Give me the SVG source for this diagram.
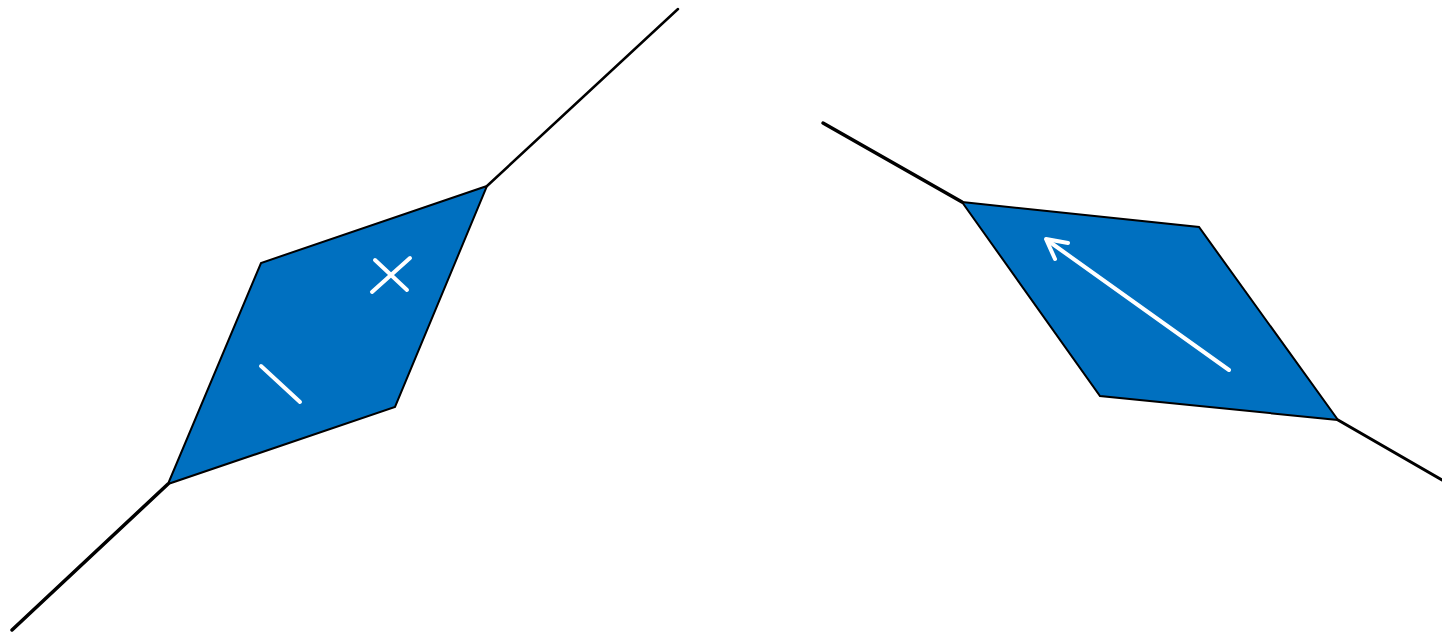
<svg xmlns="http://www.w3.org/2000/svg" width="1442" height="635" viewBox="0 0 1442 635">
<style>
.wire{stroke:#000;fill:none;stroke-linecap:round}
.shape{fill:#0070c0;stroke:#000;stroke-width:2;stroke-linejoin:miter}
.mark{stroke:#fff;stroke-width:4;fill:none;stroke-linecap:round;stroke-linejoin:round}
</style>
<rect width="1442" height="635" fill="#fff"/>
<g id="connectors">
<line class="wire" x1="12" y1="630" x2="168" y2="484" stroke-width="3.5"/>
<line class="wire" x1="487" y1="186" x2="678" y2="9" stroke-width="2.5"/>
<line class="wire" x1="823" y1="123" x2="962" y2="202" stroke-width="3.5"/>
<line class="wire" x1="1338" y1="420" x2="1442" y2="480" stroke-width="3"/>
</g>
<g id="node-left">
<polygon class="shape" points="168,484 261,263 487,186 395,407"/>
<line class="mark" x1="261" y1="366" x2="300" y2="402"/>
<line class="mark" x1="372" y1="292" x2="410" y2="258"/>
<line class="mark" x1="375" y1="260" x2="407" y2="290"/>
</g>
<g id="node-right">
<polygon class="shape" points="962,202 1199,227 1338,420 1100,396"/>
<line class="mark" x1="1229" y1="370" x2="1047" y2="240"/>
<polyline class="mark" points="1068,243 1046,239 1055,259"/>
</g>
</svg>
